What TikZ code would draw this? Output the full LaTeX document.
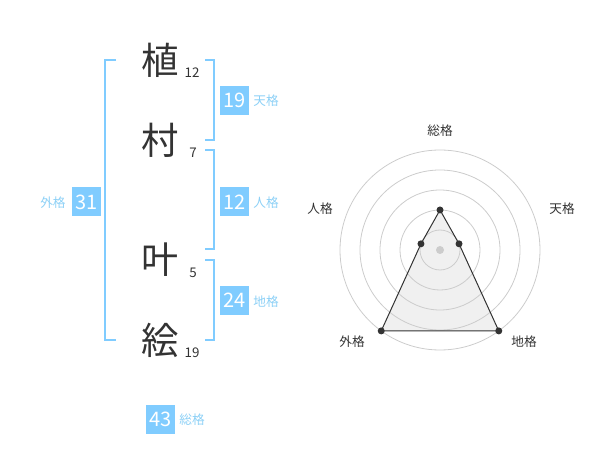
\documentclass[tikz,border=0pt]{standalone}
\usepackage{fontspec}
\setmainfont{Noto Sans CJK JP}
\usepackage{xcolor}
\usepackage{tikz}
\usetikzlibrary{positioning}

\definecolor{kaku}{HTML}{80CCFF}
\definecolor{kakutext}{HTML}{8CD0F6}
\definecolor{moji}{HTML}{333333}
\definecolor{ring}{HTML}{CCCCCC}

\tikzset{
    big/.style={text=moji, inner sep=0pt, font=\fontsize{28}{28}\selectfont},
    stroke/.style={text=moji, inner sep=0pt, font=\fontsize{10}{10}\selectfont},
    kakubox/.style={fill=kaku, text=white, inner sep=0pt, minimum size=21.75pt, font=\fontsize{15}{15}\selectfont},
    kakuname/.style={text=kakutext, inner sep=0pt, font=\fontsize{9.5}{9.5}\selectfont},
    bracket/.style={kaku, line width=1.5pt},
    radarname/.style={text=moji, inner sep=0pt, font=\fontsize{9.5}{9.5}\selectfont}
}

\begin{document}
\begin{tikzpicture}[x=0.75pt, y=-0.75pt]
        \useasboundingbox (0, 0) rectangle (600, 470);
        % name
        \node[big] (c1) at (160, 60) {植};
        \node[big] (c2) at (160, 140) {村};
        \node[big] (c3) at (160, 260) {叶};
        \node[big] (c4) at (160, 340) {絵};
        \node[stroke] (s1) at (192, 73) {12};
        \node[stroke] (s2) at (193, 153) {7};
        \node[stroke] (s3) at (193, 273) {5};
        \node[stroke] (s4) at (192, 353) {19};
        % brackets
        \draw[bracket] (116, 60) -- (105, 60) -- (105, 340) -- (116, 340);
        \draw[bracket] (205, 60) -- (214, 60) -- (214, 140) -- (205, 140);
        \draw[bracket] (205, 150) -- (214, 150) -- (214, 249) -- (205, 249);
        \draw[bracket] (205, 260) -- (214, 260) -- (214, 340) -- (205, 340);
        % boxes
        \node[kakubox] (ten) at (234.5, 100.5) {19};
        \node[kakuname] (tenname) at (266, 101) {天格};
        \node[kakubox] (jin) at (234.5, 202) {12};
        \node[kakuname] (jinname) at (266, 203) {人格};
        \node[kakubox] (chi) at (234.5, 300.5) {24};
        \node[kakuname] (chiname) at (266, 301.5) {地格};
        \node[kakubox] (gai) at (86.5, 202) {31};
        \node[kakuname] (gainame) at (53, 203) {外格};
        \node[kakubox] (sou) at (160.5, 419) {43};
        \node[kakuname] (souname) at (192, 420) {総格};
        % radar
        \begin{scope}[shift={(440, 250)}, yscale=-1]
            \coordinate (rsou) at (90:40);
            \coordinate (rten) at (18:20);
            \coordinate (rchi) at (-54:100);
            \coordinate (rgai) at (-126:100);
            \coordinate (rjin) at (162:20);
            \fill[black!6] (rsou) -- (rten) -- (rchi) -- (rgai) -- (rjin) -- cycle;
            \foreach \r in {20, 40, 60, 80, 100}
                \draw[ring, line width=0.6pt] (0, 0) circle[radius=\r];
            \fill[ring] (0, 0) circle[radius=4];
            \draw[moji, line width=0.75pt] (rsou) -- (rten) -- (rchi) -- (rgai) -- (rjin) -- cycle;
            \foreach \p in {rsou, rten, rchi, rgai, rjin}
                \fill[moji] (\p) circle[radius=3.5];
            \node[radarname] (nsou) at (0, 119) {総格};
            \node[radarname] (nten) at (122, 41) {天格};
            \node[radarname] (nchi) at (84, -92) {地格};
            \node[radarname] (ngai) at (-88, -92) {外格};
            \node[radarname] (njin) at (-120, 41) {人格};
        \end{scope}
    \end{tikzpicture}
\end{document}
